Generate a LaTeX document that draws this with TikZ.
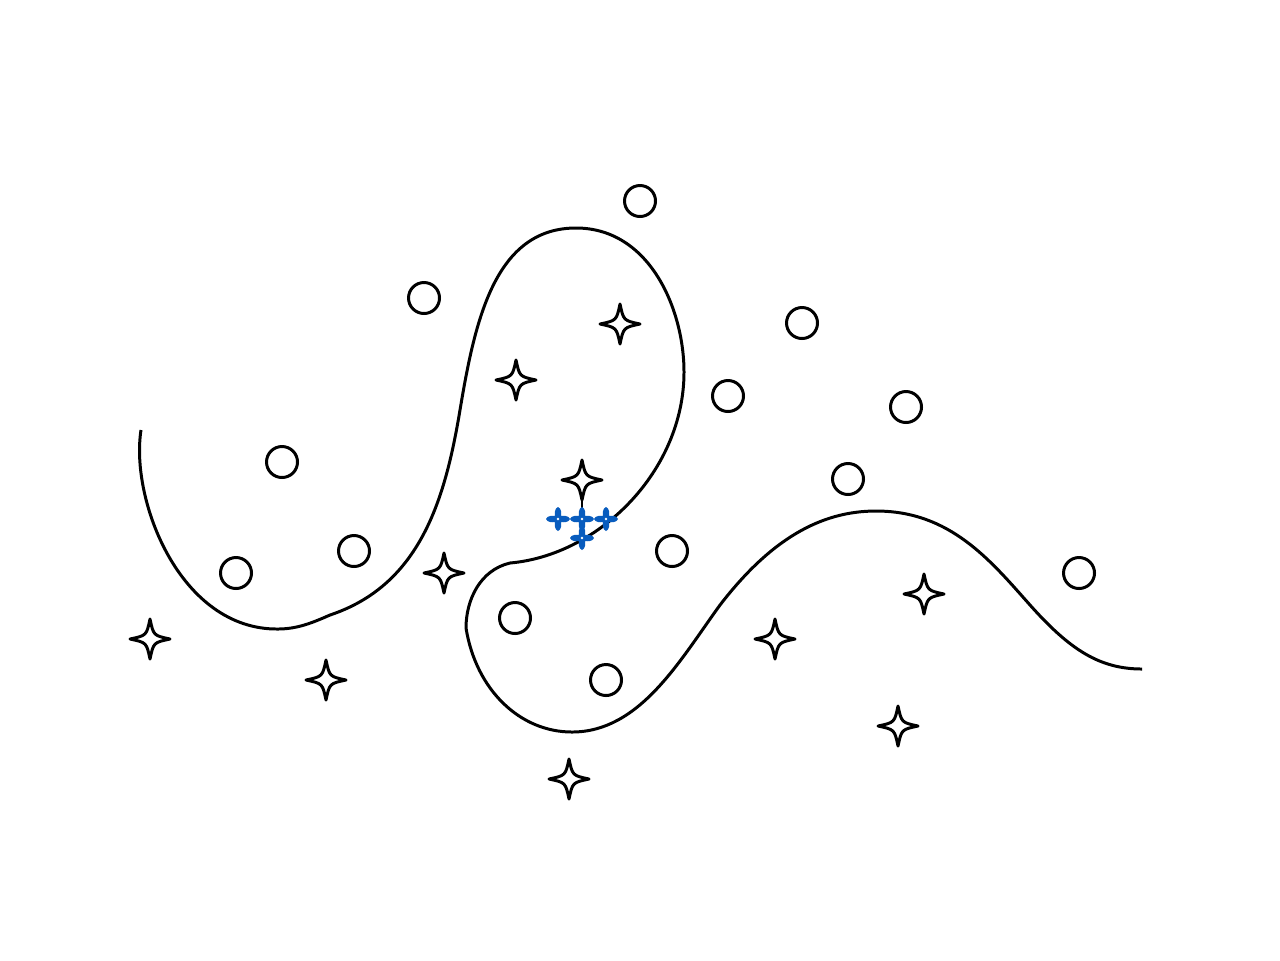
\documentclass[tikz,border=0pt]{standalone}
\usetikzlibrary{calc}

\definecolor{sparkblue}{RGB}{8,92,190}

\tikzset{
    pics/spark/.style={code={
        \draw[line width=0.85pt, fill=white, line join=round]
            (0,20) .. controls (3.5,3.5) .. (20,0)
            .. controls (3.5,-3.5) .. (0,-20)
            .. controls (-3.5,-3.5) .. (-20,0)
            .. controls (-3.5,3.5) .. cycle;
    }},
    pics/minispark/.style={code={
        \fill[sparkblue]
            (0,12) .. controls (3.5,11) and (3.5,5) .. (3,3)
            .. controls (5,3.5) and (11,3.5) .. (12,0)
            .. controls (11,-3.5) and (5,-3.5) .. (3,-3)
            .. controls (3.5,-5) and (3.5,-11) .. (0,-12)
            .. controls (-3.5,-11) and (-3.5,-5) .. (-3,-3)
            .. controls (-5,-3.5) and (-11,-3.5) .. (-12,0)
            .. controls (-11,3.5) and (-5,3.5) .. (-3,3)
            .. controls (-3.5,5) and (-3.5,11) .. cycle;
        \fill[white] (0,0) circle (1.3);
    }},
    ring/.style={line width=0.85pt, fill=white},
    wave/.style={line width=0.85pt}
}

\begin{document}
\begin{tikzpicture}[x=0.01cm, y=-0.01cm]
    \useasboundingbox (0,0) rectangle (1280,960);

    % The winding boundary
    \draw[wave] (141,430) .. controls (130,500) and (180,630) .. (278,629)
        .. controls (298,629) and (314,622) .. (330,615)
        .. controls (420,585) and (445,500) .. (460,410)
        .. controls (475,320) and (495,228) .. (576,228)
        .. controls (650,228) and (684,310) .. (684,372)
        .. controls (684,470) and (600,555) .. (510,563)
        .. controls (480,570) and (466,600) .. (466,628)
        .. controls (476,690) and (520,732) .. (572,732)
        .. controls (640,732) and (680,660) .. (720,605)
        .. controls (770,540) and (820,511) .. (876,511)
        .. controls (950,511) and (990,560) .. (1030,605)
        .. controls (1070,650) and (1100,669) .. (1142,669);

    % Circles
    \foreach \cx/\cy in {640/201, 424/298, 802/323, 728/396, 906/407, 282/462,
                         848/479, 236/573, 354/551, 672/551, 1079/573, 515/618, 606/680}
        \draw[ring] (\cx,\cy) circle (15.5);

    % Named points for the sparks
    \coordinate (S0) at (582,480);
    \coordinate (B1) at (558,519);
    \coordinate (B2) at (582,519);
    \coordinate (B3) at (606,519);
    \coordinate (B4) at (582,538);

    % Stem from the top spark to the blue cluster
    \draw[line width=0.6pt] (S0) -- (B2);

    % Sparks
    \foreach \cx/\cy in {620/324, 516/380, 444/573, 150/639, 326/680,
                         775/639, 924/594, 898/726, 569/779}
        \pic at (\cx,\cy) {spark};
    \pic at (S0) {spark};

    % Blue cluster
    \foreach \b in {B1,B2,B3,B4}
        \pic at (\b) {minispark};

\end{tikzpicture}
\end{document}
